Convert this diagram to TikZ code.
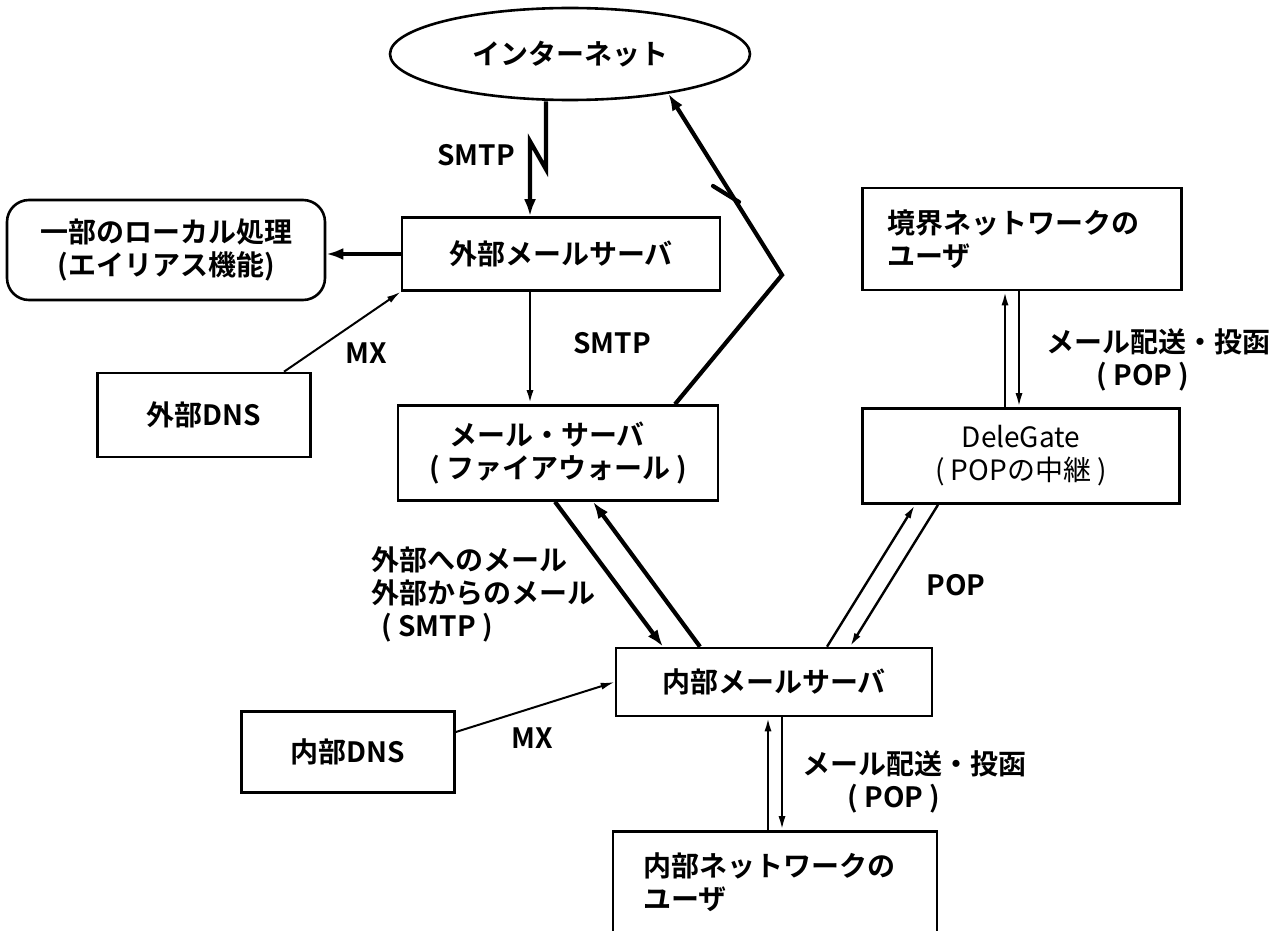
\documentclass[tikz,border=0pt]{standalone}
\usepackage{fontspec}
\setmainfont{Noto Sans CJK JP}[BoldFont={Noto Sans CJK JP Bold}]
\usetikzlibrary{shapes.geometric,arrows.meta}

\begin{document}
\begin{tikzpicture}[x=1pt,y=-1pt,
	every node/.style={font=\bfseries\fontsize{28}{33}\selectfont},
	box/.style={draw,line width=2.6pt,inner sep=0pt},
	heavy/.style={line width=4.2pt,-{Latex[length=17pt,width=12pt]}},
	light/.style={line width=2.4pt,-{Latex[length=14pt,width=7pt]}}]

		\useasboundingbox (0,0) rectangle (1287,931);

		% boxes
		\node[box,ellipse,minimum width=360pt,minimum height=92pt] (inet) at (570,54) {インターネット};
		\node[box,rounded corners=22pt,minimum width=318pt,minimum height=100pt,align=center] (local) at (166,250) {一部のローカル処理\\(エイリアス機能)};
		\node[box,minimum width=318pt,minimum height=73pt] (ext) at (561,254) {外部メールサーバ};
		\node[box,minimum width=213pt,minimum height=84pt] (extdns) at (204,415) {外部DNS};
		\node[box,minimum width=320pt,minimum height=95pt,align=left] (fw) at (558,453) {\hspace{20pt}メール・サーバ\\( ファイアウォール )};
		\node[box,minimum height=102pt,inner xsep=25pt,text width=269pt,align=left] (bdruser) at (1022,239) {境界ネットワークの\\ユーザ};
		\node[box,minimum width=317pt,minimum height=95pt,align=center,font=\mdseries\fontsize{28}{33}\selectfont] (dgate) at (1021,456) {DeleGate\\( POPの中継 )};
		\node[box,minimum width=316pt,minimum height=68pt] (innerm) at (774,682) {内部メールサーバ};
		\node[box,minimum width=213pt,minimum height=81pt] (innerdns) at (348,752) {内部DNS};
		\node[box,minimum height=101pt,inner xsep=30pt,text width=264pt,align=left] (inneru) at (775,882) {内部ネットワークの\\ユーザ};

		\coordinate (bend) at (782,275);

		% connectors
		\draw[heavy] ([xshift=-24pt]inet.south) -- ++(0,68) -- ++(-16,-28) -- ([xshift=-31pt]ext.north);
		\draw[heavy] (ext.west) -- (ext.west -| local.east);
		\draw[light,line width=2pt] ([xshift=80pt]extdns.north) -- (ext.south west);
		\draw[light,line width=2.6pt] ([xshift=-31pt]ext.south) -- ([xshift=-28pt]fw.north);
		\draw[heavy] ([xshift=117pt]fw.north) -- (bend) -- (inet.-22);
		\draw[line width=4.2pt,line cap=round] (713,186) -- (739,202);

		\draw[heavy] ([xshift=-3pt]fw.south) -- ([xshift=-111pt]innerm.north);
		\draw[heavy] ([xshift=-74pt]innerm.north) -- ([xshift=35pt]fw.south);

		\draw[light,line width=2pt] ([yshift=20pt]innerdns.east) -- (innerm.west);

		\draw[light] ([xshift=53pt]innerm.north) -- ([xshift=-106pt]dgate.south);
		\draw[light] ([xshift=-83pt]dgate.south) -- ([xshift=76pt]innerm.north);

		\draw[light] ([xshift=-16pt]dgate.north) -- ([xshift=-16pt]dgate.north |- bdruser.south);
		\draw[light] ([xshift=-3pt]bdruser.south) -- ([xshift=-3pt]bdruser.south |- dgate.north);

		\draw[light] ([xshift=-7pt]inneru.north) -- ([xshift=-7pt]inneru.north |- innerm.south);
		\draw[light] ([xshift=8pt]innerm.south) -- ([xshift=8pt]innerm.south |- inneru.north);

		% labels
		\node (smtpa) at (476,155) {SMTP};
		\node (mxa) at (366,353) {MX};
		\node (smtpb) at (612,343) {SMTP};
		\node[align=left,anchor=west] (smtpc) at (368,594) {外部へのメール\\外部からのメール\\\hspace{10pt}( SMTP )};
		\node (mxb) at (532,738) {MX};
		\node (popa) at (956,585) {POP};
		\node[align=center] (popb) at (1158,360) {メール配送・投函\\\hspace*{-30pt}( POP )};
		\node[align=center] (popc) at (914,782) {メール配送・投函\\\hspace*{-40pt}( POP )};

	\end{tikzpicture}
\end{document}
